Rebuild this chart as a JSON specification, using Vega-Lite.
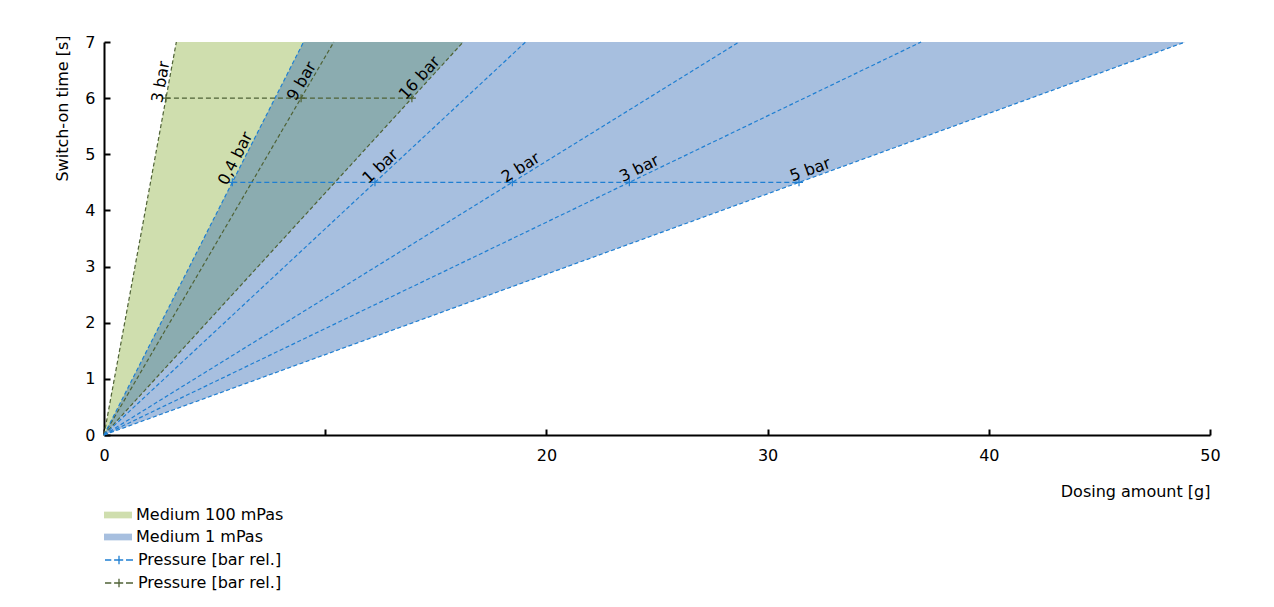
{
  "$schema": "https://vega.github.io/schema/vega-lite/v6.json",
  "autosize": {"type": "none"},
  "width": 1106,
  "height": 393,
  "padding": {"left": 104, "top": 42, "right": 64, "bottom": 172},
  "background": "white",
  "config": {
    "view": {"stroke": null},
    "font": "DejaVu Sans",
    "axis": {"domainColor": "black", "domainWidth": 2, "tickColor": "black", "tickWidth": 2, "tickSize": -6, "labelFontSize": 16, "labelColor": "black", "titleFontSize": 16, "titleFontWeight": "normal", "titleColor": "black", "grid": false, "labelFont": "DejaVu Sans", "titleFont": "DejaVu Sans", "labelFlush": false},
    "legend": {"labelFontSize": 16, "labelColor": "black", "labelFont": "DejaVu Sans", "padding": 0, "labelOffset": 4, "rowPadding": 0, "labelLimit": 400}
  },
  "datasets": {
    "areas": [
      {"medium": "Medium 100 mPas", "y": 0, "xl": 0, "xr": 0},
      {"medium": "Medium 100 mPas", "y": 7, "xl": 3.27, "xr": 16.24},
      {"medium": "Medium 1 mPas", "y": 0, "xl": 0, "xr": 0},
      {"medium": "Medium 1 mPas", "y": 7, "xl": 9.02, "xr": 48.88}
    ],
    "rays": [
      {"pressure": "Pressure [bar rel.] ", "id": "g3", "x": 0, "y": 0},
      {"pressure": "Pressure [bar rel.] ", "id": "g3", "x": 3.27, "y": 7},
      {"pressure": "Pressure [bar rel.] ", "id": "g9", "x": 0, "y": 0},
      {"pressure": "Pressure [bar rel.] ", "id": "g9", "x": 10.39, "y": 7},
      {"pressure": "Pressure [bar rel.] ", "id": "g16", "x": 0, "y": 0},
      {"pressure": "Pressure [bar rel.] ", "id": "g16", "x": 16.24, "y": 7},
      {"pressure": "Pressure [bar rel.]", "id": "b0.4", "x": 0, "y": 0},
      {"pressure": "Pressure [bar rel.]", "id": "b0.4", "x": 9.02, "y": 7},
      {"pressure": "Pressure [bar rel.]", "id": "b1", "x": 0, "y": 0},
      {"pressure": "Pressure [bar rel.]", "id": "b1", "x": 19.06, "y": 7},
      {"pressure": "Pressure [bar rel.]", "id": "b2", "x": 0, "y": 0},
      {"pressure": "Pressure [bar rel.]", "id": "b2", "x": 28.71, "y": 7},
      {"pressure": "Pressure [bar rel.]", "id": "b3", "x": 0, "y": 0},
      {"pressure": "Pressure [bar rel.]", "id": "b3", "x": 36.94, "y": 7},
      {"pressure": "Pressure [bar rel.]", "id": "b5", "x": 0, "y": 0},
      {"pressure": "Pressure [bar rel.]", "id": "b5", "x": 48.88, "y": 7}
    ],
    "marks": [
      {"pressure": "Pressure [bar rel.] ", "id": "g3", "label": "3 bar", "x": 2.80, "y": 6},
      {"pressure": "Pressure [bar rel.] ", "id": "g9", "label": "9 bar", "x": 8.91, "y": 6},
      {"pressure": "Pressure [bar rel.] ", "id": "g16", "label": "16 bar", "x": 13.92, "y": 6},
      {"pressure": "Pressure [bar rel.]", "id": "b0.4", "label": "0,4 bar", "x": 5.80, "y": 4.5},
      {"pressure": "Pressure [bar rel.]", "id": "b1", "label": "1 bar", "x": 12.25, "y": 4.5},
      {"pressure": "Pressure [bar rel.]", "id": "b2", "label": "2 bar", "x": 18.46, "y": 4.5},
      {"pressure": "Pressure [bar rel.]", "id": "b3", "label": "3 bar", "x": 23.75, "y": 4.5},
      {"pressure": "Pressure [bar rel.]", "id": "b5", "label": "5 bar", "x": 31.42, "y": 4.5}
    ]
  },
  "layer": [
    {
      "data": {"name": "areas"},
      "mark": {"type": "area", "orient": "horizontal"},
      "encoding": {
        "y": {"field": "y", "type": "quantitative", "scale": {"domain": [0, 7], "nice": false, "zero": true},
          "axis": {"values": [0, 1, 2, 3, 4, 5, 6, 7], "format": "d", "title": "Switch-on time [s]", "titleAnchor": "end", "titlePadding": 14, "labelPadding": 15, "titleY": -7}},
        "x": {"field": "xl", "type": "quantitative", "scale": {"domain": [0, 50], "nice": false},
          "axis": {"values": [0, 10, 20, 30, 40, 50], "format": "d", "title": "Dosing amount [g]", "titleAnchor": "end", "labelExpr": "datum.value == 10 ? '' : datum.label", "labelPadding": 18, "titlePadding": 20}},
        "x2": {"field": "xr"},
        "fill": {"field": "medium", "type": "nominal",
          "scale": {"domain": ["Medium 100 mPas", "Medium 1 mPas"], "range": ["#cfdeae", "rgba(45,102,179,0.42)"]},
          "legend": {"title": null, "orient": "none", "legendX": 0, "legendY": 459, "symbolType": "M-1,-0.24H1V0.24H-1Z", "symbolSize": 784, "symbolStrokeWidth": 0}},
        "order": {"field": "medium", "sort": "descending"}
      }
    },
    {
      "data": {"name": "rays"},
      "mark": {"type": "line", "strokeWidth": 1.2, "strokeDash": [4, 2.5]},
      "encoding": {
        "x": {"field": "x", "type": "quantitative"},
        "y": {"field": "y", "type": "quantitative"},
        "detail": {"field": "id"},
        "stroke": {"field": "pressure", "type": "nominal",
          "scale": {"domain": ["Pressure [bar rel.]", "Pressure [bar rel.] "], "range": ["#1f7fd2", "#4f6236"]},
          "legend": {"title": null, "orient": "none", "legendX": 0, "legendY": 503, "symbolType": "M-1,0H-0.55M-0.35,0H0.3M0,-0.3V0.3M0.5,0H1", "symbolSize": 784, "symbolStrokeWidth": 1.3}}
      }
    },
    {
      "data": {"name": "marks"},
      "mark": {"type": "line", "strokeWidth": 1.4, "strokeDash": [5, 3]},
      "encoding": {
        "x": {"field": "x", "type": "quantitative"},
        "y": {"field": "y", "type": "quantitative"},
        "stroke": {"field": "pressure", "type": "nominal"}
      }
    },
    {
      "data": {"name": "marks"},
      "mark": {"type": "point", "shape": "M-1,0H1M0,-1V1", "size": 64, "filled": false, "strokeWidth": 1.2, "opacity": 1},
      "encoding": {
        "x": {"field": "x", "type": "quantitative"},
        "y": {"field": "y", "type": "quantitative"},
        "stroke": {"field": "pressure", "type": "nominal"}
      }
    },
    {
      "data": {"name": "marks"},
      "mark": {"type": "text", "align": "left", "baseline": "alphabetic", "dx": -6, "dy": -3, "fontSize": 16, "color": "black", "font": "DejaVu Sans"},
      "encoding": {
        "x": {"field": "x", "type": "quantitative"},
        "y": {"field": "y", "type": "quantitative"},
        "text": {"field": "label"},
        "angle": {"field": "id", "type": "nominal", "legend": null,
          "scale": {"type": "ordinal", "domain": ["g3", "g9", "g16", "b0.4", "b1", "b2", "b3", "b5"], "range": [280.5, 300.4, 312.5, 297, 317, 328, 334, 340]}}
      }
    }
  ]
}
